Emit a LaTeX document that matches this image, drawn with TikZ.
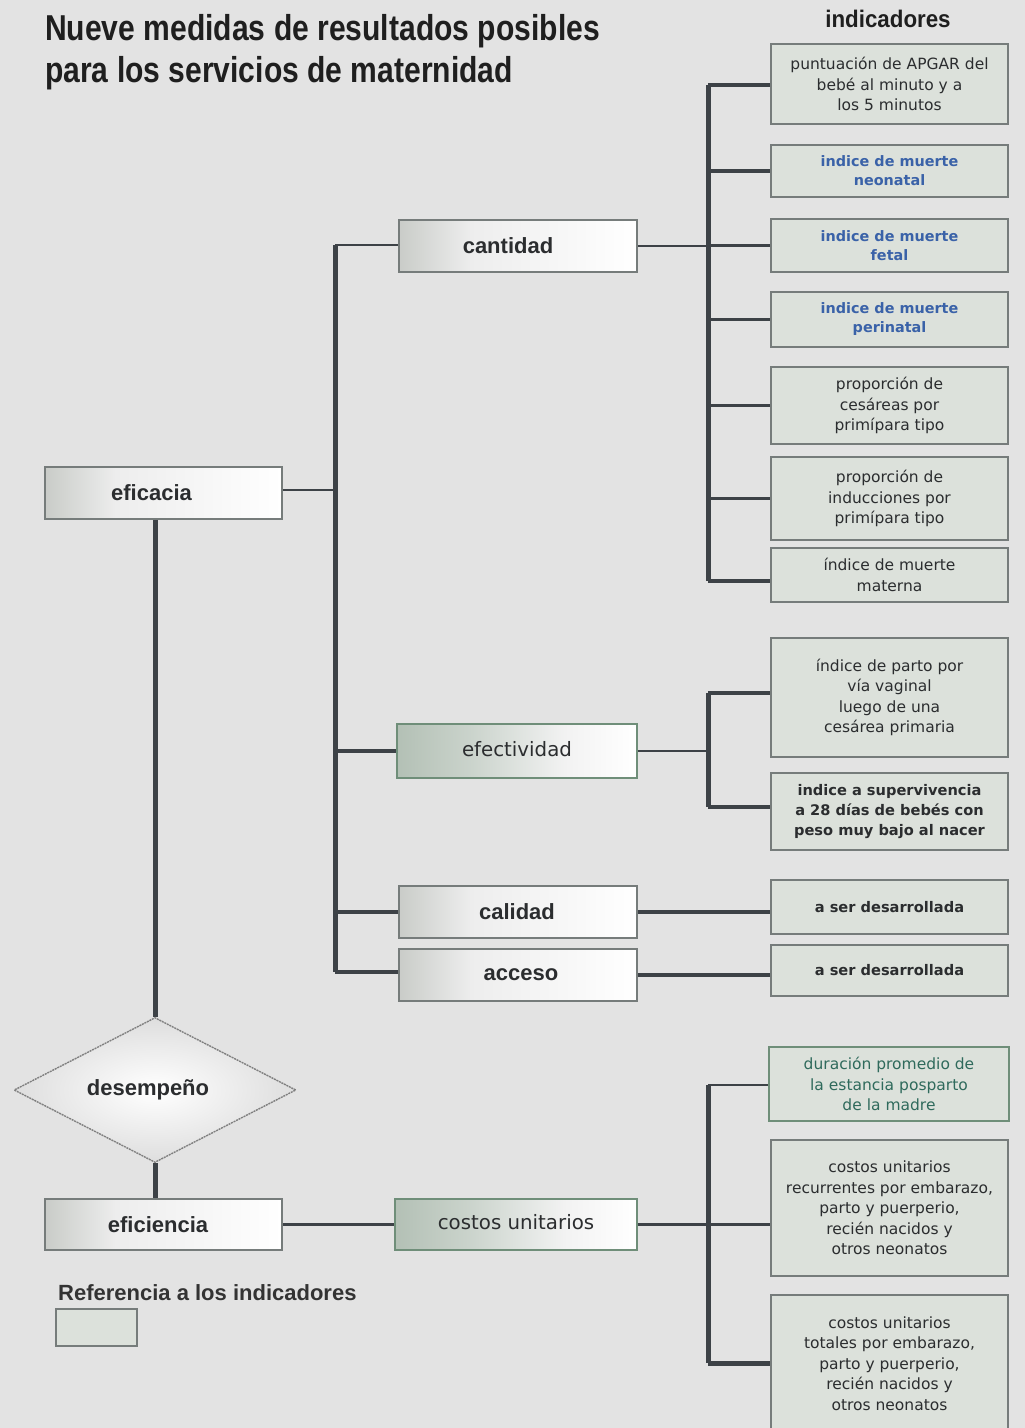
\documentclass[tikz,border=0pt]{standalone}
\usepackage{fontspec}
\setmainfont{Liberation Sans}
\newfontfamily\hum{DejaVu Sans}
\usetikzlibrary{shapes.geometric}

\definecolor{bg}{HTML}{E3E3E3}
\definecolor{ln}{HTML}{3D4247}
\definecolor{indfill}{HTML}{DCE1DB}
\definecolor{indedge}{HTML}{767C7B}
\definecolor{bluetxt}{HTML}{3A62A8}
\definecolor{tealtxt}{HTML}{2F6A5C}
\definecolor{txt}{HTML}{2B2D2F}
\definecolor{greenedge}{HTML}{6F8E79}
\definecolor{shadegray}{HTML}{C9CCC8}
\definecolor{shadegreen}{HTML}{B3C0B5}

\pgfdeclarehorizontalshading{grayshade}{100bp}{color(0bp)=(shadegray); color(25bp)=(shadegray); color(40bp)=(white!93!black); color(75bp)=(white); color(100bp)=(white)}
\pgfdeclarehorizontalshading{greenshade}{100bp}{color(0bp)=(shadegreen); color(25bp)=(shadegreen); color(40bp)=(shadegreen!70!white); color(60bp)=(white!95!black); color(75bp)=(white); color(100bp)=(white)}

\newcommand{\labshift}[2]{\hspace*{#1}\raisebox{-3pt}{#2}}

\tikzset{
  catbox/.style={draw=indedge, line width=1.5pt, shade, shading=grayshade,
    minimum width=238pt, minimum height=52pt, inner sep=0pt,
    font=\fontsize{22}{26}\selectfont\bfseries, text=txt},
  catgreen/.style={catbox, draw=greenedge, line width=1.2pt, shading=greenshade,
    font=\hum\fontsize{19.8}{24}\selectfont},
  indbox/.style={draw=indedge, line width=1.6pt, fill=indfill, minimum width=237pt,
    inner sep=0pt, align=center, text=txt, font=\hum\fontsize{15.5}{20.5}\selectfont},
  indblue/.style={indbox, text=bluetxt, font=\hum\bfseries\fontsize{14.4}{19}\selectfont},
  inddark/.style={indbox, text=txt, font=\hum\bfseries\fontsize{14.6}{20}\selectfont},
  spine/.style={draw=ln, line width=5pt},
  branch/.style={draw=ln, line width=3.6pt},
  thinline/.style={draw=ln, line width=2.4pt},
}

\begin{document}
\begin{tikzpicture}[x=1pt,y=-1pt]
\fill[bg] (0,0) rectangle (1025,1428);
\clip (0,0) rectangle (1025,1428);

% title and heading
\node[anchor=base west, inner sep=0pt, font=\bfseries\fontsize{36}{42}\selectfont, text=black!88] (t1) at (45,40) {\scalebox{0.835}[1]{Nueve medidas de resultados posibles}};
\node[anchor=base west, inner sep=0pt, font=\bfseries\fontsize{36}{42}\selectfont, text=black!88] (t2) at (45,82) {\scalebox{0.835}[1]{para los servicios de maternidad}};
\node[anchor=base, inner sep=0pt, font=\bfseries\fontsize{24}{28}\selectfont, text=black!88] (hd) at (888,27) {\scalebox{0.93}[1]{indicadores}};

% indicator boxes
\node[indbox, minimum height=80pt] (apgar) at (889.5,84) {puntuación de APGAR del\\bebé al minuto y a\\los 5 minutos};
\node[indblue, minimum height=52pt] (neo) at (889.5,171) {indice de muerte\\neonatal};
\node[indblue, minimum height=53pt] (fetal) at (889.5,245.5) {indice de muerte\\fetal};
\node[indblue, minimum height=55pt] (peri) at (889.5,319.5) {indice de muerte\\perinatal};
\node[indbox, minimum height=77pt] (ces) at (889.5,405.5) {proporción de\\cesáreas por\\primípara tipo};
\node[indbox, minimum height=83pt] (induc) at (889.5,498.5) {proporción de\\inducciones por\\primípara tipo};
\node[indbox, minimum height=54pt] (mat) at (889.5,575) {índice de muerte\\materna};
\node[indbox, minimum height=119pt] (vag) at (889.5,697.5) {índice de parto por\\vía vaginal\\luego de una\\cesárea primaria};
\node[inddark, minimum height=77pt] (sup) at (889.5,811.5) {indice a supervivencia\\a 28 días de bebés con\\peso muy bajo al nacer};
\node[inddark, minimum height=54pt] (cali) at (889.5,907) {a ser desarrollada};
\node[inddark, minimum height=51pt] (acci) at (889.5,970.5) {a ser desarrollada};
\node[indbox, draw=greenedge, line width=1.2pt, text=tealtxt, minimum width=240pt, minimum height=74pt] (dur) at (889,1084) {duración promedio de\\la estancia posparto\\de la madre};
\node[indbox, minimum height=136pt] (rec) at (889.5,1208) {costos unitarios\\recurrentes por embarazo,\\parto y puerperio,\\recién nacidos y\\otros neonatos};
\node[indbox, minimum height=137pt] (tot) at (889.5,1363.5) {costos unitarios\\totales por embarazo,\\parto y puerperio,\\recién nacidos y\\otros neonatos};

% category boxes
\node[catbox] (cantidad) at (518,246) {\labshift{-20pt}{cantidad}};
\node[catgreen, minimum width=240pt, minimum height=54pt] (efect) at (517,751) {\raisebox{5pt}{efectividad}};
\node[catbox] (calidad) at (518,912) {\labshift{-2pt}{calidad}};
\node[catbox] (acceso) at (518,975) {\labshift{6pt}{acceso}};
\node[catgreen, minimum width=242pt, minimum height=51pt] (costos) at (516,1224.5) {\raisebox{5pt}{costos unitarios}};
\node[catbox, minimum width=237pt] (eficacia) at (163.5,493) {\labshift{-24pt}{eficacia}};
\node[catbox, minimum width=237pt, minimum height=51pt] (eficiencia) at (163.5,1224.5) {\labshift{-11pt}{eficiencia}};
\node[diamond, draw=black!50, line width=1.4pt, dash pattern=on 2pt off 0.8pt,
      shade, inner color=white, outer color=white!87!black,
      minimum width=282pt, minimum height=145pt, inner sep=0pt,
      font=\fontsize{22}{26}\selectfont\bfseries, text=txt] (desemp) at (155,1090) {\hspace*{-14pt}desempeño};

% legend
\node[anchor=base west, inner sep=0pt, font=\bfseries\fontsize{22}{26}\selectfont, text=black!80] (leg) at (58,1300) {Referencia a los indicadores};
\node[anchor=north west, draw=indedge, line width=1.5pt, fill=indfill, minimum width=81pt, minimum height=37pt, inner sep=0pt] (legbox) at (55,1308) {};

% junction points of the vertical bars
\coordinate (sa) at (335,245);
\coordinate (sb) at (335,972);
\coordinate (ua) at (708,85);
\coordinate (ub) at (708,581);
\coordinate (va) at (708,693);
\coordinate (vb) at (708,807);
\coordinate (wa) at (708,1085);
\coordinate (wb) at (708,1363);

% left column
\draw[spine] (eficacia.south -| desemp.north) -- (desemp.north);
\draw[spine] (desemp.south) -- (eficiencia.north -| desemp.south);
\draw[thinline] (eficacia.east) ++(0,-3) -- (sa |- 0,490);
\draw[thinline] (eficiencia.east) -- (costos.west);

% middle bar
\draw[spine] (sa) -- (sb);
\draw[thinline] (sa) -- (sa -| cantidad.west);
\draw[branch] (sa |- efect.west) -- (efect.west);
\draw[branch] (sa |- calidad.west) -- (calidad.west);
\draw[branch] (sb) -- (sb -| acceso.west);

% cantidad indicators
\draw[spine] (ua) -- (ub);
\draw[thinline] (cantidad.east) -- (cantidad.east -| ua);
\draw[branch] (ua) -- (ua -| apgar.west);
\draw[branch, line width=4.6pt] (ua |- neo.west) -- (neo.west);
\draw[thinline] (ua |- fetal.west) -- (fetal.west);
\draw[branch] (ua |- peri.west) -- (peri.west);
\draw[branch] (ua |- ces.west) -- (ces.west);
\draw[branch] (ua |- induc.west) -- (induc.west);
\draw[branch] (ub) -- (ub -| mat.west);

% efectividad indicators
\draw[spine] (va) -- (vb);
\draw[thinline] (efect.east) -- (efect.east -| va);
\draw[branch] (va) -- (va -| vag.west);
\draw[branch] (vb) -- (vb -| sup.west);

% calidad and acceso
\draw[branch] (calidad.east) -- (calidad.east -| cali.west);
\draw[branch] (acceso.east) -- (acceso.east -| acci.west);

% costos indicators
\draw[spine] (wa) -- (wb);
\draw[thinline] (costos.east) -- (costos.east -| wa);
\draw[thinline] (wa) -- (wa -| dur.west);
\draw[thinline] (wa |- costos.east) -- (costos.east -| rec.west);
\draw[branch, line width=5pt] (wb) -- (wb -| tot.west);
\end{tikzpicture}
\end{document}
